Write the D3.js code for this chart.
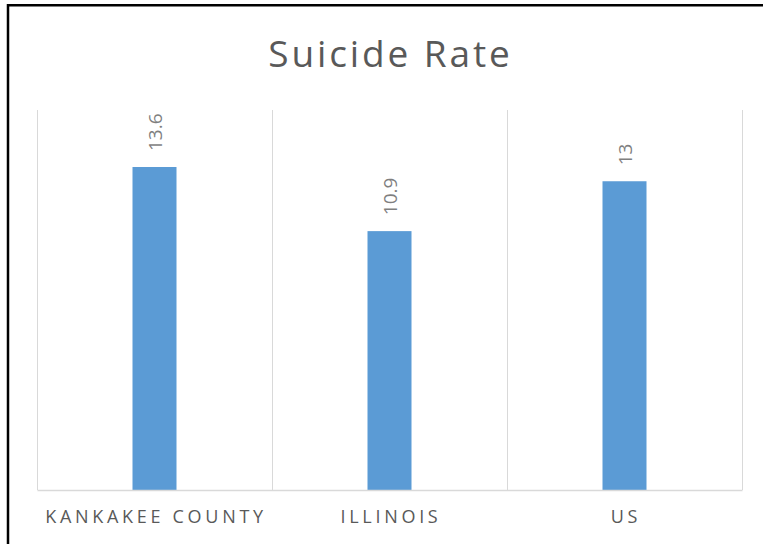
<!DOCTYPE html>
<html>
<head>
<meta charset="utf-8">
<script src="https://cdn.jsdelivr.net/npm/d3@7"></script>
<style>
  html, body { margin: 0; padding: 0; background: #fff; }
  svg { display: block; }
  text { font-family: "Open Sans", "Noto Sans", sans-serif; }
</style>
</head>
<body>
<svg id="chart" width="763" height="544"></svg>
<script>
const categories = ["KANKAKEE COUNTY", "ILLINOIS", "US"];
const values = [13.6, 10.9, 13];
const valueLabels = ["13.6", "10.9", "13"];
const yMax = 16;

const svg = d3.select("#chart");
const W = 763, H = 544;
const plot = { left: 37, right: 742, top: 110, bottom: 490 };

// outer frame
svg.append("rect").attr("x", 8).attr("y", 5.25).attr("width", W + 20).attr("height", H + 20)
  .attr("fill", "none").attr("stroke", "#000").attr("stroke-width", 2.5);

const x = d3.scaleBand().domain(categories).range([plot.left, plot.right]).padding(0);
const y = d3.scaleLinear().domain([0, yMax]).range([plot.bottom, plot.top]);
const barW = 44;

// vertical gridlines at band boundaries
const bounds = categories.map(c => x(c)).concat([x(categories[categories.length - 1]) + x.bandwidth()]);
svg.append("g").selectAll("line").data(bounds).join("line")
  .attr("x1", d => Math.round(d) + 0.5).attr("x2", d => Math.round(d) + 0.5)
  .attr("y1", y(yMax)).attr("y2", y(0))
  .attr("stroke", "#d9d9d9").attr("stroke-width", 1);

// bars
svg.append("g").selectAll("rect").data(values).join("rect")
  .attr("x", (d, i) => x(categories[i]) + x.bandwidth() / 2 - barW / 2)
  .attr("y", d => y(d))
  .attr("width", barW)
  .attr("height", d => y(0) - y(d))
  .attr("fill", "#5b9bd5");

// x axis baseline
const xAxis = d3.axisBottom(x).tickSize(0).tickPadding(20);
const gx = svg.append("g").attr("transform", `translate(0,${y(0)})`).call(xAxis);
gx.select(".domain").attr("stroke", "#d9d9d9").attr("stroke-width", 1.5);
gx.selectAll("text")
  .attr("fill", "#595959")
  .attr("dx", "1.5px")
  .style("font-size", "18px")
  .style("letter-spacing", "3.7px");

// data labels (rotated)
svg.append("g").selectAll("text").data(values).join("text")
  .attr("transform", (d, i) => `translate(${x(categories[i]) + x.bandwidth() / 2 + 7},${y(d) - 16}) rotate(-90)`)
  .attr("text-anchor", "start")
  .attr("fill", "#7f7f7f")
  .style("font-size", "19px")
  .text((d, i) => valueLabels[i]);

// title
svg.append("text")
  .attr("x", (plot.left + plot.right) / 2 + 1)
  .attr("y", 66.5)
  .attr("text-anchor", "middle")
  .attr("fill", "#595959")
  .style("font-size", "37px")
  .style("letter-spacing", "2.9px")
  .text("Suicide Rate");
</script>
</body>
</html>
